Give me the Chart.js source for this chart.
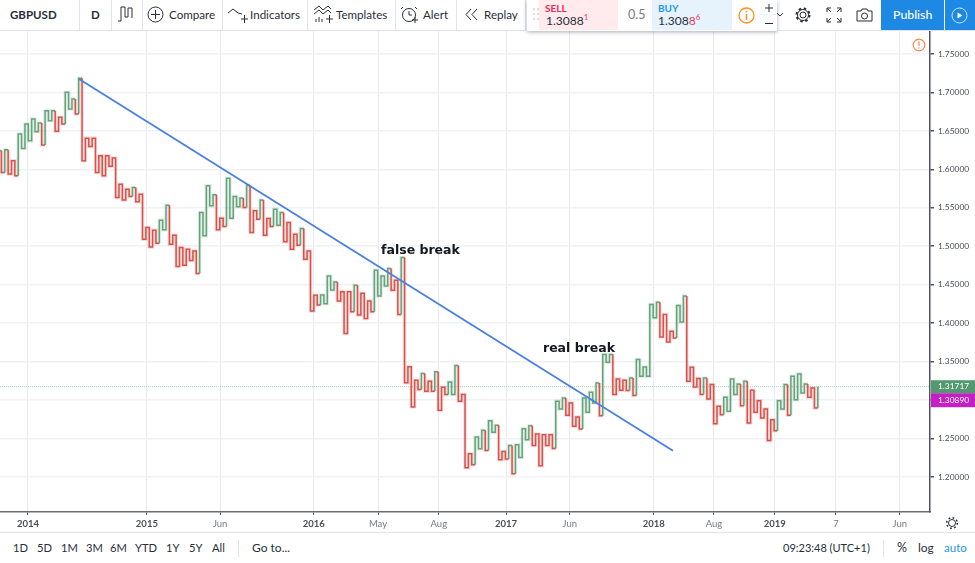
<!DOCTYPE html>
<html><head><meta charset="utf-8">
<script src="https://cdn.jsdelivr.net/npm/chart.js@4"></script>
<style>
html,body{margin:0;padding:0;background:#fff;overflow:hidden}
#wrap{position:relative;width:975px;height:563px;font-family:Lato,sans-serif;color:#222}
canvas{position:absolute;left:0;top:0}
.t{position:absolute;white-space:nowrap;font-size:11.6px;line-height:14px;color:#2a2e39}
svg{position:absolute;overflow:visible}
sup{font-size:8px;line-height:0;color:#ef3a5d}
</style></head><body>
<div id="wrap">
<canvas id="c" width="975" height="563"></canvas>
<div id="ui"></div>
</div>
<script>
const symbol = "GBPUSD";
const turns = [
1.6025,1.6242,1.5959,1.6255,1.5938,1.6111,1.5916,1.6459,1.6272,1.6590,1.6372,1.6655,1.6490,1.6603,1.6316,1.6763,1.6633,1.6763,1.6494,1.6676,1.6590,1.7002,1.6785,1.6915,1.6720,1.7185,
1.6111,1.6403,1.6298,1.6403,1.5959,1.6177,1.5916,1.6177,1.6038,1.6146,1.5633,1.5807,1.5599,1.5742,1.5646,1.5764,1.5577,1.5677,1.5090,1.5242,1.4990,1.5208,1.5038,1.5338,1.5212,1.5533,1.5025,1.5142,1.4734,1.4982,1.4751,1.4960,1.4812,1.4938,1.4643,1.5438,1.5134,1.5786,1.5525,1.5668,1.5212,1.5364,1.5255,1.5885,1.5364,1.5646,
1.5512,1.5625,1.5503,1.5794,1.5177,1.5460,1.5351,1.5599,1.5142,1.5360,1.5255,1.5481,1.5273,1.5438,1.5056,1.5308,1.4960,1.5156,1.5012,1.5229,1.4830,1.4938,1.4156,1.4360,1.4234,1.4365,1.4252,1.4612,1.4430,1.4534,1.4286,1.4408,1.3865,1.4408,1.4147,1.4491,1.4104,1.4386,1.4060,1.4286,1.4147,1.4686,1.4352,1.4612,1.4482,1.4708,1.4425,1.4556,1.4112,1.4851,
1.3222,1.3430,1.2909,1.3256,1.3135,1.3343,1.3113,1.3243,1.3113,1.3365,1.2865,1.3165,1.3069,1.3234,1.3069,1.3447,1.2982,1.3069,1.2117,1.2300,1.2156,1.2517,1.2365,1.2604,1.2343,1.2730,1.2578,1.2669,1.2221,1.2330,1.2230,1.2408,1.2039,1.2417,1.2252,1.2626,1.2482,1.2665,1.2408,1.2556,1.2143,1.2547,1.2408,1.2547,1.2369,1.2982,1.2882,1.3025,1.2799,1.2960,1.2656,1.2778,1.2621,1.3025,1.2839,1.3099,1.2960,1.3221,1.2795,1.3590,
1.3490,1.3590,1.3069,1.3273,1.3125,1.3256,1.3121,1.3286,1.3056,1.3525,1.3308,1.3429,1.3308,1.4242,1.4068,1.4272,1.3820,1.4112,1.3755,1.3894,1.3807,1.4229,1.4012,1.4351,1.3242,1.3425,1.3169,1.3277,1.3069,1.3286,1.3012,1.3199,1.2691,1.2917,1.2808,1.3034,1.2851,1.3273,1.3069,1.3208,1.2925,1.3242,1.2699,1.3125,1.2838,1.2990,1.2764,1.2882,1.2473,1.2743,1.2599,1.2990,1.2882,1.3199,1.2799,1.3308,1.3003,1.3338,1.3090,1.3208,1.3034,1.3156,1.2895,1.31717
];
const yTicks = [1.20,1.25,1.30,1.35,1.40,1.45,1.50,1.55,1.60,1.65,1.70,1.75];
const xTickLabels = ["2014","2015","Jun","2016","May","Aug","2017","Jun","2018","Aug","2019","7","Jun"];
const xTickSteps = [7.9,43.3,65.1,93,112.1,130.2,150.2,169.2,194.2,212.1,230.2,248.4,267.4];
const boldLabels = ["2014","2015","2016","2017","2018","2019"];
const trendX = [23.1,199.9];
const trendY = [1.7176,1.2339];
const lastPrice = 1.31717;
const markPrice = 1.30890;
const notes = [["false break",113,1.4944],["real break",161.2,1.3664]];
const xRange = [-0.42,276.4];
const yRange = [1.1542,1.7812];

const RED="#d8514a", GREEN="#66a37c";
// Kagi construction: vertical at each step, then a horizontal shoulder. The colour flips
// where a vertical crosses the previous shoulder or waist.
const pts=[], cols=[];
let state="g";
for(let k=1;k<turns.length;k++){
  const x=k-2, a=turns[k-1], b=turns[k], ref=k>=2?turns[k-2]:null;
  pts.push({x,y:a}); cols.push(state==="g"?GREEN:RED);
  if(ref!==null){
    if(b>a && b>ref && ref>a){ pts.push({x,y:ref}); state="g"; cols.push(GREEN);}
    else if(b>a && b>ref){ state="g"; cols[cols.length-1]=GREEN; }
    else if(b<a && b<ref && ref<a){ pts.push({x,y:ref}); state="r"; cols.push(RED);}
    else if(b<a && b<ref){ state="r"; cols[cols.length-1]=RED; }
  }
  pts.push({x,y:b}); cols.push(state==="g"?GREEN:RED);
  if(k<turns.length-1){ pts.push({x:x+1,y:b}); cols.push(state==="g"?GREEN:RED); }
}
function alpha(h,a){const n=parseInt(h.slice(1),16);return `rgba(${n>>16},${(n>>8)&255},${n&255},${a})`;}

const overlay={id:"overlay",afterDraw(ch){
  const c=ch.ctx,s=ch.scales.y,xs=ch.scales.x;
  c.save();
  c.fillStyle="#131722";c.font='bold 12.5px "DejaVu Sans"';c.textBaseline="middle";c.textAlign="left";
  notes.forEach(n=>c.fillText(n[0],xs.getPixelForValue(n[1]),s.getPixelForValue(n[2])));
  const ly=s.getPixelForValue(lastPrice);
  const left=xs.right+1;
  c.fillStyle="#53996f";c.fillRect(left,ly-6.5,46,13);
  c.fillStyle="#c41fc4";c.fillRect(left,ly+6.5,46,14);
  c.fillStyle="#fff";c.font='8.4px Lato';c.textAlign="left";
  c.fillText(lastPrice.toFixed(5),938,ly);
  c.fillText(markPrice.toFixed(5),938,ly+13.5);
  c.restore();
}};

new Chart(document.getElementById("c"),{
  type:"line",
  data:{datasets:[
    {label:"halo",data:pts,borderWidth:3.4,pointRadius:0,tension:0,order:3,borderJoinStyle:"miter",
     segment:{borderColor:x=>alpha(cols[x.p0DataIndex+1],0.2)}},
    {label:symbol,data:pts,borderWidth:1.5,pointRadius:0,tension:0,order:2,borderJoinStyle:"miter",
     segment:{borderColor:x=>cols[x.p0DataIndex+1]}},
    {label:"trend",data:[{x:trendX[0],y:trendY[0]},{x:trendX[1],y:trendY[1]}],borderColor:"#4a7fe2",borderWidth:1.8,pointRadius:0,order:1},
    {label:"last",data:[{x:xRange[0],y:lastPrice},{x:xRange[1],y:lastPrice}],borderColor:"#a9d3b4",borderWidth:1,borderDash:[1,1],pointRadius:0,order:4}
  ]},
  plugins:[overlay],
  options:{
    responsive:false,animation:false,events:[],
    layout:{padding:{top:30,bottom:31,left:0,right:0}},
    plugins:{legend:{display:false},tooltip:{enabled:false},title:{display:false}},
    scales:{
      x:{type:"linear",min:xRange[0],max:xRange[1],
        afterFit:s=>{s.height=20},
        afterBuildTicks:s=>{s.ticks=xTickSteps.map(v=>({value:v}))},
        grid:{color:"#e9eaee",lineWidth:1,tickLength:3,tickColor:"#50535e",drawOnChartArea:true},
        border:{color:"#6a6d78",width:1.5},
        ticks:{autoSkip:false,maxRotation:0,padding:3,
          callback:(v,i)=>xTickLabels[i],
          color:c=>boldLabels.includes(xTickLabels[c.index])?"#4a4d57":"#787b86",
          font:c=>({family:'Lato',size:9.5,weight:boldLabels.includes(xTickLabels[c.index])?"bold":"normal"})}
      },
      y:{type:"linear",position:"right",min:yRange[0],max:yRange[1],
        afterFit:s=>{s.width=45},
        afterBuildTicks:s=>{s.ticks=yTicks.map(v=>({value:v}))},
        grid:{color:"#f0f1f4",lineWidth:1.5,tickLength:4,tickColor:"#50535e"},
        border:{color:"#50535e",width:1.5},
        ticks:{padding:4,crossAlign:"near",color:"#4a4d57",font:{family:'Lato',size:8.4},
          callback:v=>v.toFixed(5)}
      }
    }
  }
});

// Application chrome
const ui=document.getElementById("ui");
function T(txt,x,y,css){const d=document.createElement("div");d.className="t";d.innerHTML=txt;d.style.left=x+"px";d.style.top=(y-7)+"px";if(css)d.style.cssText+=";"+css;ui.appendChild(d);return d;}
function R(x,y,w,h,css){const d=document.createElement("div");d.style.cssText=`position:absolute;left:${x}px;top:${y}px;width:${w}px;height:${h}px;${css}`;ui.appendChild(d);return d;}
function S(x,y,w,h,body){const d=document.createElementNS("http://www.w3.org/2000/svg","svg");d.setAttribute("width",w);d.setAttribute("height",h);d.setAttribute("viewBox",`0 0 ${w} ${h}`);d.style.left=x+"px";d.style.top=y+"px";d.innerHTML=body;ui.appendChild(d);}
R(0,0,975,30,"background:#fff;border-bottom:1px solid #e0e3eb;box-sizing:content-box");
R(0,532,975,31,"background:#fff;border-top:1px solid #e0e3eb;box-sizing:border-box");
[79,111,142,222,307,395,456,525].forEach(x=>R(x,0,1,30,"background:#e0e3eb"));
T(symbol,10,15,"font-weight:700;font-size:11.500px");
T("D",91,15,"font-weight:700;font-size:11.500px");
const ln='fill="none" stroke="#2a2e39" stroke-width="1"';
S(118,5,16,18,`<path d="M0 16H3V2H7V12H10V3H14V13" ${ln}/>`);
S(147,6,17,17,`<circle cx="8.5" cy="8.5" r="7.5" ${ln}/><path d="M8.5 4V13M4 8.5H13" ${ln}/>`);
T("Compare",169,15);
S(228,7,18,16,`<path d="M0 6L5 2L10 6L14 7M13 12H20M16.500 8V16" ${ln}/>`);
T("Indicators",250,15);
S(314,5,18,19,`<path d="M0 5L5 1L9 5L14 1L17 4M0 9L5 5L9 9L14 5L17 8M2 17V14M5 17V12M8 17V14M12 14H19M15.500 10V18" ${ln}/>`);
T("Templates",336,15);
S(401,5,17,19,`<circle cx="8" cy="10" r="6.500" ${ln}/><path d="M2 2L0 4M14 2L16 4M8 6V10H11M11 15H17M14 12V18" ${ln}/>`);
T("Alert",423,15);
S(465,9,14,12,`<path d="M6 0L1 5.500L6 11M12 0L7 5.500L12 11" ${ln}/>`);
T("Replay",484,15);
R(527,0,250,31,"background:#fff;box-shadow:0 1px 4px rgba(60,70,90,.45)");
S(533,7,8,16,`<g fill="#cfd2da"><circle cx="1" cy="2" r="1"/><circle cx="5" cy="2" r="1"/><circle cx="1" cy="7" r="1"/><circle cx="5" cy="7" r="1"/><circle cx="1" cy="12" r="1"/><circle cx="5" cy="12" r="1"/></g>`);
R(539,0,79,30,"background:#ffebee");
R(652,0,80,30,"background:#e6f3fd");
T("SELL",545,8,"font-size:10px;font-weight:700;color:#ef2a53");
T("1.3088<sup>1</sup>",546,21,"font-size:12px");
T("0.5",628,15,"color:#787b86;font-size:12.500px");
T("BUY",658,8,"font-size:10px;font-weight:700;color:#2196f3");
T('1.308<span style="color:#ef3a5d">8</span><sup>6</sup>',658,21,"font-size:12px");
S(738,7,17,17,`<circle cx="8.5" cy="8.500" r="7.500" fill="none" stroke="#f7931e" stroke-width="1.300"/><path d="M8.500 7V13M8.500 4V5.500" stroke="#f7931e" stroke-width="1.500"/>`);
R(761,0,16,15,"border-bottom:1px solid #eceef2;box-sizing:border-box");
S(765,4,8,8,`<path d="M0 4H8M4 0V8" ${ln}/>`);
S(765,23,8,1,`<path d="M0 0.500H8" ${ln}/>`);
S(777,13,7,5,`<path d="M0 0L3 3L6 0" ${ln}/>`);
S(795,7,16,16,`<circle cx="8" cy="8" r="3" ${ln}/><circle cx="8" cy="8" r="6.500" fill="none" stroke="#2a2e39" stroke-width="2" stroke-dasharray="2.500 2.600"/><circle cx="8" cy="8" r="5.500" ${ln}/>`);
S(827,8,14,14,`<path d="M0 4V0H4M10 0H14V4M14 10V14H10M4 14H0V10M0 0L4 4M14 0L10 4M14 14L10 10M0 14L4 10" ${ln}/>`);
S(856,8,17,14,`<path d="M1 3H5L6 1H11L12 3H16V13H1Z" ${ln}/><circle cx="8.500" cy="8" r="3" ${ln}/>`);
R(881,0,63,30,"background:#1e88e5");
R(945,0,30,30,"background:#1e88e5");
T("Publish",893,15,"color:#fff;font-size:12.300px;font-weight:500");
S(951,7,17,17,`<circle cx="8.500" cy="8.500" r="7.500" fill="none" stroke="#cfe6fb"/><path d="M6.500 5.500L11.500 8.500L6.500 11.500Z" fill="#fff"/>`);
S(912,38,14,14,`<circle cx="7" cy="7" r="5.800" fill="none" stroke="#f5874f" stroke-width="1.200"/><path d="M7 3.500V8M7 9.300V10.600" stroke="#f5874f" stroke-width="1.200"/>`);
S(945,516,14,14,`<circle cx="7" cy="7" r="3.500" ${ln}/><circle cx="7" cy="7" r="5.300" fill="none" stroke="#2a2e39" stroke-width="1.500" stroke-dasharray="1.800 2.350"/>`);
const periods=["1D","5D","1M","3M","6M","YTD","1Y","5Y","All"], periodX=[13,37,61,86,110,135,166,189,212];
periods.forEach((p,i)=>T(p,periodX[i],548,"font-size:11.200px"));
R(238,540,1,17,"background:#e0e3eb");
T("Go to...",252,548,"font-size:12px");
T("09:23:48 (UTC+1)",783,548,"font-size:11px");
R(883,540,1,17,"background:#e0e3eb");
T("%",897,548,"font-size:12.500px");
T("log",918,548,"font-size:12px");
T("auto",944,548,"font-size:11.500px;color:#2196f3");
</script>
</body></html>
